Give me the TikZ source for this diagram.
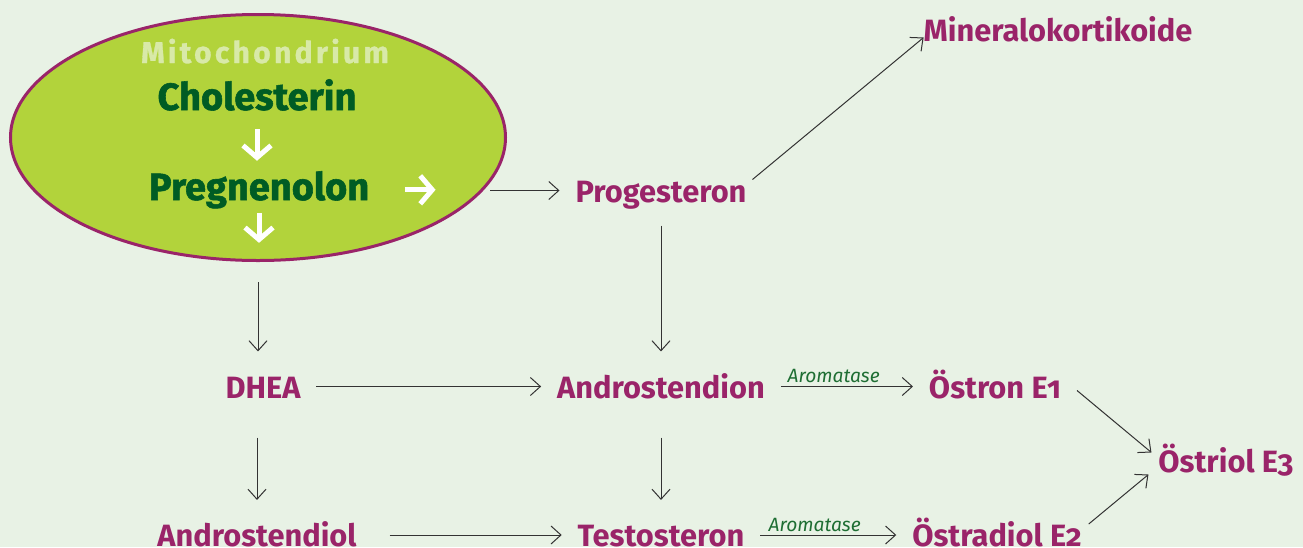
\documentclass[tikz,border=0pt]{standalone}
\usepackage{fontspec}
\setmainfont{Fira Sans}[Numbers=OldStyle]
\usetikzlibrary{arrows.meta,positioning,shapes.geometric}
\definecolor{paleground}{HTML}{E8F2E5}
\definecolor{hormonepurple}{HTML}{9A2469}
\definecolor{mitogreen}{HTML}{B2D33B}
\definecolor{mitodark}{HTML}{005C24}
\definecolor{mitopale}{HTML}{D8E9A8}
\definecolor{enzymegreen}{HTML}{1E6E33}
\definecolor{arrowgray}{HTML}{333333}
\tikzset{
  hormone/.style={font=\bfseries\fontsize{15.4}{18}\selectfont, text=hormonepurple,
    inner sep=0pt, outer xsep=8pt, outer ysep=11pt, text height=12.3pt, text depth=0.75pt},
  mitotext/.style={font=\bfseries\fontsize{19}{22}\selectfont\addfontfeatures{FakeBold=1.5},
    text=mitodark, inner sep=0pt, anchor=base},
  convarrow/.style={-{Straight Barb[length=5pt,width=9pt]}, line width=0.5pt, draw=arrowgray},
  mitoarrow/.style={-{Straight Barb[length=6pt,width=14pt]}, line width=2.5pt, draw=white},
  enzyme/.style={font=\itshape\fontsize{9.6}{12}\selectfont, text=enzymegreen,
    inner sep=1.5pt, above, pos=0.4}
}
\begin{document}
\begin{tikzpicture}[x=0.5pt, y=-0.5pt]
  \path[fill=paleground, use as bounding box] (0,0) rectangle (1303,547);

  \node[ellipse, draw=hormonepurple, line width=1.5pt, fill=mitogreen, minimum width=247.5pt,
    minimum height=123pt, inner sep=0pt] (mito) at (258,137.5) {};
  \node[mitotext, text=mitopale,
    font=\bfseries\fontsize{15}{18}\selectfont\addfontfeatures{LetterSpace=11,FakeBold=1}]
    (mitolabel) at (265,63) {Mitochondrium};
  \node[mitotext] (chol) at (257,110) {Cholesterin};
  \node[mitotext] (preg) at (259,200) {Pregnenolon};
  \coordinate[right=33pt of preg.east] (pregout);
  \coordinate[below=17pt of preg.south] (pregdown);

  \draw[mitoarrow, shorten <=9pt, shorten >=5pt] (chol.south) -- (chol.south |- preg.north);
  \draw[mitoarrow, shorten <=17.5pt] (preg.east) -- (pregout);
  \draw[mitoarrow, shorten <=2pt] (preg.south) -- (pregdown);

  \node[hormone] (prog) at (661,190.5) {Progesteron};
  \node[hormone] (mineral) at (1058,29.5) {Mineralokortikoide};
  \node[hormone] (dhea) at (263,386.5) {DHEA};
  \node[hormone] (andion) at (661,386.5) {Androstendion};
  \node[hormone] (oestron) at (995,386.5) {Östron E1};
  \node[hormone] (oestriol) at (1226,460.5) {Östriol E3};
  \node[hormone] (andiol) at (257,535) {Androstendiol};
  \node[hormone] (testo) at (661,535) {Testosteron};
  \node[hormone] (oestradiol) at (997,535) {Östradiol E2};

  \draw[convarrow] ([xshift=-8.5pt]mito.east |- prog.west) -- (prog.west);
  \draw[convarrow] ([xshift=-5pt,yshift=5.5pt]prog.east) -- ([xshift=8pt,yshift=-4pt]mineral.west);
  \draw[convarrow, shorten <=10pt] (mito.south) -- (mito.south |- dhea.north);
  \draw[convarrow] (prog) -- (andion);
  \draw[convarrow] (dhea) -- (andion);
  \draw[convarrow] (andion) -- node[enzyme] {Aromatase} (oestron);
  \draw[convarrow] ([yshift=-2pt]oestron.east) -- ([xshift=4.5pt,yshift=4pt]oestriol.west);
  \draw[convarrow, shorten <=8pt] (andiol.north |- dhea.south) -- (andiol.north);
  \draw[convarrow, shorten <=8pt] (andion) -- (testo);
  \draw[convarrow, shorten <=8.5pt] (andiol) -- (testo);
  \draw[convarrow] (testo) -- node[enzyme] {Aromatase} (oestradiol);
  \draw[convarrow] ([xshift=-4.5pt,yshift=5.5pt]oestradiol.east) -- ([xshift=3pt,yshift=-7pt]oestriol.west);
\end{tikzpicture}
\end{document}
